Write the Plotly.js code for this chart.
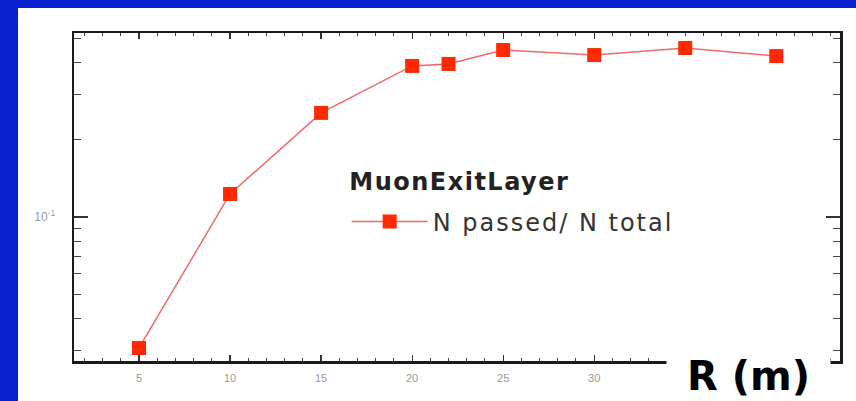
<!DOCTYPE html>
<html>
<head>
<meta charset="utf-8">
<script src="https://cdn.plot.ly/plotly-3.0.1.min.js"></script>
<style>
  html, body { margin: 0; padding: 0; width: 856px; height: 401px; background: rgb(8,33,204); overflow: hidden; }
  #chart { position: absolute; left: 18px; top: 8px; width: 838px; height: 393px; }
  .legendtext { letter-spacing: 2px; }
  #chart .annotation[data-index="0"] .annotation-text { letter-spacing: 1.5px; }
</style>
</head>
<body>
<div id="chart"></div>
<script>
// Data
const radius = [5, 10, 15, 20, 22, 25, 30, 35, 40];
const ratio = [0.0308, 0.123, 0.255, 0.389, 0.396, 0.449, 0.429, 0.457, 0.425];
const seriesName = 'N passed/ N total';
const legendTitle = 'MuonExitLayer';
const xTickVals = [5, 10, 15, 20, 25, 30];
const xTickText = ['5', '10', '15', '20', '25', '30'];
const yTickVals = [0.1];
const yTickText = ['10<sup>-1</sup>'];
const yMinorVals = [0.03, 0.04, 0.05, 0.06, 0.07, 0.08, 0.09, 0.2, 0.3, 0.4, 0.5];
const xTitle = 'R (m)';

const trace = {
  x: radius,
  y: ratio,
  name: seriesName,
  type: 'scatter',
  mode: 'lines+markers',
  line: { color: '#f06a6a', width: 1.5 },
  marker: { symbol: 'square', size: 14, color: '#ff2a00' },
  showlegend: true
};

const layout = {
  width: 838,
  height: 393,
  margin: { l: 56, r: 16, t: 25, b: 40 },
  paper_bgcolor: '#ffffff',
  plot_bgcolor: '#ffffff',
  showlegend: true,
  legend: {
    x: 0.356, y: 0.424, xanchor: 'left', yanchor: 'middle',
    bgcolor: 'rgba(0,0,0,0)',
    font: { family: 'DejaVu Sans', size: 24, color: '#333' },
    itemwidth: 76
  },
  xaxis: {
    type: 'linear',
    range: [1.43, 43.5],
    showgrid: false, zeroline: false,
    showline: true, linecolor: '#1a1a1a', linewidth: 2.5,
    mirror: 'allticks',
    ticks: 'inside', ticklen: 6, tickwidth: 1.2, tickcolor: '#333',
    tickmode: 'array', tickvals: xTickVals, ticktext: xTickText,
    tickfont: { family: 'Liberation Sans', size: 11, color: '#9a9a9a' },
    ticklabelstandoff: 5,
    minor: { dtick: 1, ticks: 'inside', ticklen: 3, tickwidth: 1, tickcolor: '#444' }
  },
  yaxis: {
    type: 'log',
    range: [Math.log10(0.0274), Math.log10(0.523)],
    showgrid: false, zeroline: false,
    showline: true, linecolor: '#1a1a1a', linewidth: 2.5,
    mirror: 'allticks',
    ticks: 'inside', ticklen: 14, tickwidth: 1.2, tickcolor: '#333',
    tickmode: 'array', tickvals: yTickVals, ticktext: yTickText,
    tickfont: { family: 'Liberation Sans', size: 12, color: '#9a9a9a' },
    ticklabelstandoff: 14,
    minor: { tickmode: 'array', tickvals: yMinorVals, ticks: 'inside', ticklen: 7, tickwidth: 1, tickcolor: '#444' }
  },
  annotations: [
    {
      xref: 'paper', yref: 'paper',
      x: 0.5033, y: 0.5457,
      xanchor: 'center', yanchor: 'middle',
      text: '<b>' + legendTitle + '</b>',
      showarrow: false,
      font: { family: 'DejaVu Sans', size: 24, color: '#222' }
    },
    {
      xref: 'paper', yref: 'paper',
      x: 0.8805, y: -0.0457,
      xanchor: 'center', yanchor: 'middle',
      text: '<b>' + xTitle + '</b>',
      showarrow: false,
      width: 163, height: 62, align: 'center', valign: 'middle',
      font: { family: 'DejaVu Sans', size: 40, color: '#000' },
      bgcolor: '#ffffff',
      borderpad: 0
    }
  ]
};

Plotly.newPlot('chart', [trace], layout, { staticPlot: true, displayModeBar: false });
</script>
</body>
</html>
